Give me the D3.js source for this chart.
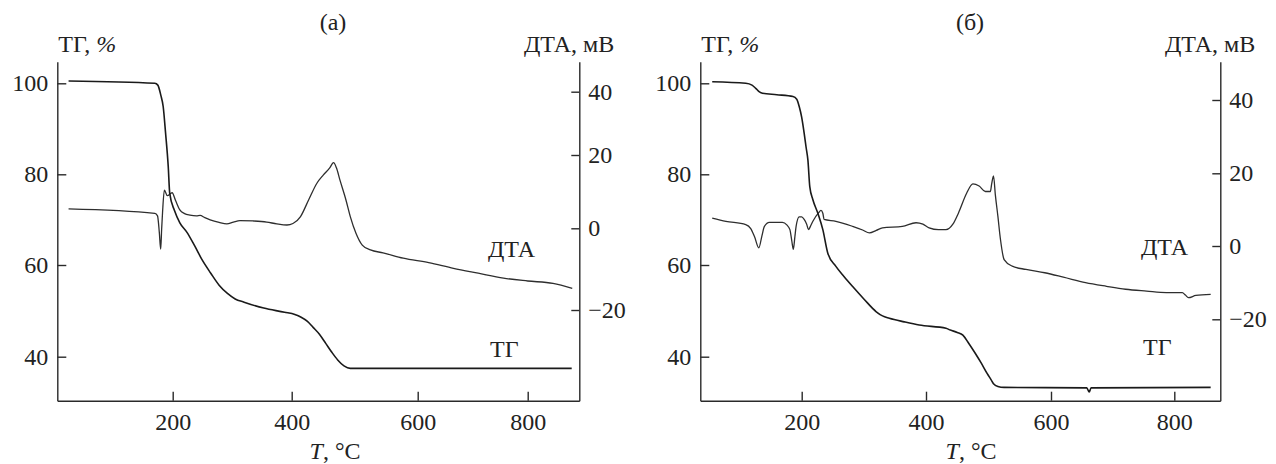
<!DOCTYPE html>
<html>
<head>
<meta charset="utf-8">
<script src="https://d3js.org/d3.v7.min.js"></script>
<style>
  @font-face { font-family: "ChartSerif"; src: local("Liberation Serif"), local("LiberationSerif"), local("Tinos"); }
  body { margin: 0; background: #fff; }
  svg text { font-family: "Liberation Serif", "ChartSerif", Tinos, FreeSerif !important; }
  .axis path, .axis line { stroke: #2a2a2a; stroke-width: 1.4px; }
  .tg { fill: none; stroke: #1a1a1a; stroke-width: 1.6px; }
  .dta { fill: none; stroke: #2e2e2e; stroke-width: 1.3px; }
</style>
</head>
<body>
<svg width="1276" height="464"></svg>
<script>
// tick values
const tempTicks = [200, 400, 600, 800];
const tgTicks = [40, 60, 80, 100];
const dtaTicks = [-20, 0, 20, 40];

// (а) TG, % vs T, °C
const tgA = [[25,100.5],[170,100],[175,99.6],[180,97.4],[184,94.9],[188,89.1],[192.5,81.7],[195,75.8],
  [203,72],[212,69.3],[224,67.2],[237,64.2],[250,61],[264,58.2],[278,55.6],[292,53.8],[305,52.6],
  [320,51.9],[353,50.6],[388,49.7],[405,49.2],[415,48.6],[425,47.7],[434,46.4],[444,44.9],[454,42.9],
  [464,40.9],[473,39.3],[483,38],[493,37.45],[880,37.45]];
// (а) DTA, mV
const dtaA = [[25,5.3],[170,4.1],[174.5,3.4],[177.5,-1],[179.8,-5.1],[181.5,0],[183,4.5],[186,10.4],
  [191,8.9],[199,9.7],[205,7.5],[212,5],[220,4],[229,3.6],[240,3.4],[246,3.5],[254,2.9],[263,2.3],
  [278,1.6],[291,1.2],[302,1.7],[313,2.1],[335,2],[358,1.7],[375,1.2],[392,0.9],[402,1.3],[414,3.2],
  [427,7.8],[440,12.3],[450,14.5],[460,16.4],[466.5,17.9],[471,16.5],[476.5,13.2],[486,7.8],
  [493,3.2],[502,-1.2],[512,-4.1],[525,-5.3],[545,-6],[577,-7.3],[620,-8.4],[665,-9.8],
  [710,-11],[756,-12.2],[800,-12.9],[846,-13.5],[881,-14.7]];

// (б) TG, %
const tgB = [[56,100.35],[110,100],[120,99.6],[126,98.9],[132,98.1],[137,97.8],[160,97.5],[186,97.1],
  [192,96.5],[196,94.9],[200,92.5],[204,89],[207,86],[210,83.1],[213,77.3],[218,74.4],[226,71.4],
  [234,67.8],[242,62.6],[255,59.7],[268,57.5],[282,55.3],[300,52.6],[320,49.8],[330,48.9],[341,48.4],
  [365,47.6],[389,46.9],[432,46.2],[439,45.8],[450,45.3],[459,44.7],[468,43],[479,40.7],[488,38.7],
  [498,36.3],[504,35],[508,34.1],[515,33.5],[525,33.3],[658,33.2],[662,32.3],[665,33.2],[859,33.3]];
// (б) DTA, mV
const dtaB = [[56,7.7],[78,6.8],[110,5.9],[118,4.8],[124,2.6],[131,-0.5],[136,2.8],[140,5.4],[148,6.5],
  [169,6.5],[176,5.8],[181,4.5],[184,1.5],[186.5,-0.9],[189,2.5],[191,5.4],[196,8],[200,8],[204,7.3],
  [208,6],[211,4.5],[214,5.4],[218,6.8],[227,9.1],[231,9.8],[234,9],[236,7.3],[255,6.8],[282,5.4],
  [298,4.4],[309,3.6],[320,4.3],[330,5],[362,5.4],[384,6.4],[395,6],[405,5],[420,4.5],[432,4.5],
  [443,6],[452,9.1],[465,14.5],[475,17.1],[485,16.5],[495,15],[503,15],[505,17],[508,19.3],[511,14],
  [515,8.2],[519,2],[525,-3.7],[538,-5.5],[560,-6.4],[590,-7.3],[620,-8.5],[656,-10],[690,-11],
  [721,-11.8],[755,-12.3],[787,-12.7],[813,-12.7],[818,-13.4],[823,-14.1],[835,-13.5],[859,-13.2]];

// layout: axis lines and pixel positions of the ticks
const plotTop = 61.7, plotBottom = 400.7;
const panels = [
  { title: "(а)", tg: tgA, dta: dtaA, left: 57.3, right: 579.3,
    xPos: [172.7, 291.7, 417.7, 527.7], lPos: [356.7, 265, 174.3, 83.3], rPos: [310, 228.3, 155, 91.7],
    titleX: 333, tX: 335, dtaLbl: [488, 256.7], tgLbl: [490, 356.7] },
  { title: "(б)", tg: tgB, dta: dtaB, left: 700.3, right: 1220.3,
    xPos: [801.7, 926, 1051, 1174.3], lPos: [356.7, 265, 174.3, 83.3], rPos: [319.3, 246, 173.3, 100],
    titleX: 970, tX: 971, dtaLbl: [1141, 255], tgLbl: [1143, 355] }
];

// piecewise linear scale through the tick positions, extended to the axis ends
function polyScale(ticks, pos, lo, hi) {
  const n = ticks.length;
  const s0 = (pos[1] - pos[0]) / (ticks[1] - ticks[0]);
  const s1 = (pos[n - 1] - pos[n - 2]) / (ticks[n - 1] - ticks[n - 2]);
  const d0 = ticks[0] + (lo - pos[0]) / s0;
  const d1 = ticks[n - 1] + (hi - pos[n - 1]) / s1;
  return d3.scaleLinear().domain([d0, ...ticks, d1]).range([lo, ...pos, hi]);
}

const svg = d3.select("svg");

function label(x, y, anchor) {
  return svg.append("text").attr("x", x).attr("y", y).attr("text-anchor", anchor)
    .attr("font-size", 24).attr("fill", "#222");
}

panels.forEach(p => {
  const x = polyScale(tempTicks, p.xPos, p.left, p.right);
  const yL = polyScale(tgTicks, p.lPos, plotBottom, plotTop);
  const yR = polyScale(dtaTicks, p.rPos, plotBottom, plotTop);

  const axes = [
    svg.append("g").attr("transform", `translate(0,${plotBottom})`)
       .call(d3.axisBottom(x).tickValues(tempTicks).tickSizeInner(-9).tickSizeOuter(0).tickPadding(12)),
    svg.append("g").attr("transform", `translate(${p.left},0)`)
       .call(d3.axisLeft(yL).tickValues(tgTicks).tickSizeInner(-9).tickSizeOuter(0).tickPadding(9)),
    svg.append("g").attr("transform", `translate(${p.right},0)`)
       .call(d3.axisRight(yR).tickValues(dtaTicks).tickSizeInner(-8).tickSizeOuter(0).tickPadding(9))
  ];
  axes.forEach(g => g.attr("class", "axis").attr("font-size", 24).attr("font-family", null)
    .selectAll("text").attr("fill", "#222"));

  const tgLine = d3.line().x(d => x(d[0])).y(d => yL(d[1])).curve(d3.curveMonotoneX);
  const dtaLine = d3.line().x(d => x(d[0])).y(d => yR(d[1])).curve(d3.curveMonotoneX);
  svg.append("path").datum(p.dta).attr("class", "dta").attr("d", dtaLine);
  svg.append("path").datum(p.tg).attr("class", "tg").attr("d", tgLine);

  // labels
  label(p.titleX, 30, "middle").text(p.title);
  const tl = label(p.left + 1, 52, "start");
  tl.append("tspan").text("ТГ, ");
  tl.append("tspan").attr("font-style", "italic").text("%");
  label(p.right + 35, 52, "end").text("ДТА, мВ");
  const xl = label(p.tX, 459, "middle");
  xl.append("tspan").attr("font-style", "italic").text("T");
  xl.append("tspan").text(", °C");
  label(p.dtaLbl[0], p.dtaLbl[1], "start").text("ДТА");
  label(p.tgLbl[0], p.tgLbl[1], "start").text("ТГ");
});
</script>
</body>
</html>
